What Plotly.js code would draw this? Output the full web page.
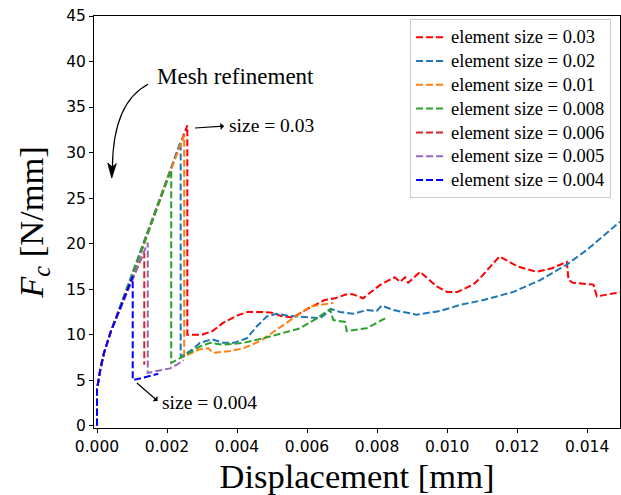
<!DOCTYPE html>
<html>
<head>
<meta charset="utf-8">
<script src="https://cdn.plot.ly/plotly-3.0.1.min.js"></script>
<style>html,body{margin:0;padding:0;background:#fff;}#chart{width:621px;height:495px;}</style>
</head>
<body>
<div id="chart"></div>
<script>
// ---- data ----
const seriesNames = ["element size = 0.03","element size = 0.02","element size = 0.01","element size = 0.008","element size = 0.006","element size = 0.005","element size = 0.004"];
const seriesColors = ["#ff0000","#1f77b4","#ff7f0e","#2ca02c","#d62728","#9467bd","#0000ff"];

const x003 = [0,0,0.0001,0.0002,0.0004,0.0006,0.0008,0.001,0.0012,0.0014,0.0016,0.0018,0.002,0.0022,0.0024,0.00258,0.00258,0.0030,0.0033,0.0036,0.0040,0.0043,0.0047,0.0050,0.0053,0.0056,0.0060,0.0065,0.0068,0.0071,0.0073,0.0076,0.0081,0.0085,0.00866,0.0088,0.00889,0.00923,0.0097,0.0100,0.0103,0.01075,0.01094,0.0115,0.0120,0.01256,0.0130,0.01342,0.01347,0.0136,0.01418,0.01428,0.0150];
const y003 = [0,4.0,6.3,8.0,10.4,12.4,14.3,16.3,18.5,20.6,22.8,24.9,27.0,29.1,31.2,33.0,10.0,10.0,10.4,11.3,12.1,12.5,12.5,12.4,12.0,11.9,12.8,13.8,14.0,14.4,14.45,14.0,15.5,16.3,15.8,16.3,15.7,16.9,15.3,14.7,14.7,15.5,16.2,18.6,17.5,16.9,17.3,18.0,16.0,15.7,15.5,14.2,14.7];

const x002 = [0,0,0.0001,0.0002,0.0004,0.0006,0.0008,0.001,0.0012,0.0014,0.0016,0.0018,0.002,0.0022,0.00239,0.00239,0.0027,0.00294,0.00328,0.00361,0.0039,0.00428,0.00456,0.00485,0.00513,0.00542,0.0058,0.00637,0.0067,0.00694,0.00732,0.0077,0.00799,0.00813,0.00847,0.00913,0.0098,0.0104,0.01104,0.0119,0.01266,0.01342,0.01399,0.01494];
const y002 = [0,4.0,6.3,8.0,10.4,12.5,14.5,16.5,18.7,20.9,23.0,25.0,27.0,29.1,31.2,7.6,8.3,9.1,9.5,9.1,9.1,9.6,10.9,12.0,12.3,12.1,12.0,11.8,12.8,12.5,12.3,12.7,12.6,13.2,12.7,12.2,12.6,13.3,13.8,14.7,16.0,17.7,19.3,22.4];

const x001 = [0,0,0.0001,0.0002,0.0004,0.0006,0.0008,0.001,0.0012,0.0014,0.0016,0.0018,0.002,0.0022,0.00249,0.00249,0.00294,0.00318,0.00332,0.0038,0.00418,0.00466,0.0050,0.0054,0.00609,0.00675];
const y001 = [0,4.0,6.3,8.0,10.4,12.4,14.3,16.3,18.5,20.6,22.8,24.9,27.0,29.0,31.9,7.6,8.4,8.5,8.0,8.2,8.5,9.3,10.2,11.3,13.1,13.5];

const x0008 = [0,0,0.0001,0.0002,0.0004,0.0006,0.0008,0.001,0.0012,0.0014,0.0016,0.0018,0.002,0.00212,0.00212,0.00256,0.00294,0.00323,0.00361,0.00418,0.00475,0.00513,0.0058,0.00628,0.00666,0.00675,0.00709,0.00713,0.0077,0.00823];
const y0008 = [0,4.0,6.3,8.0,10.4,12.4,14.3,16.3,18.5,20.6,22.7,24.8,26.8,28.1,6.9,7.8,8.7,9.1,8.9,9.1,9.6,10.0,10.7,11.8,12.8,11.6,11.4,10.4,10.7,11.8];

const x0006 = [0,0,0.0001,0.0002,0.0004,0.0006,0.0008,0.001,0.0012,0.00135,0.00135];
const y0006 = [0,4.0,6.3,8.0,10.4,12.3,14.2,16.1,17.8,19.0,6.7];

const x0005 = [0,0,0.0001,0.0002,0.0004,0.0006,0.0008,0.001,0.0012,0.00145,0.00145,0.0017,0.00209,0.00228,0.00247];
const y0005 = [0,4.0,6.3,8.0,10.4,12.3,14.2,16.1,17.8,20.1,5.8,6.0,6.3,6.7,7.2];

const x0004 = [0,0,0.0001,0.0002,0.0004,0.0006,0.0008,0.00102,0.00102,0.00113,0.00175];
const y0004 = [0,4.0,6.3,8.0,10.4,12.3,14.2,16.4,5.05,5.1,5.7];

const xTicks = [0,0.002,0.004,0.006,0.008,0.010,0.012,0.014];
const xTickLabels = ["0.000","0.002","0.004","0.006","0.008","0.010","0.012","0.014"];
const yTicks = [0,5,10,15,20,25,30,35,40,45];

const seriesX = [x003,x002,x001,x0008,x0006,x0005,x0004];
const seriesY = [y003,y002,y001,y0008,y0006,y0005,y0004];

const SERIF = "Liberation Serif, Times New Roman, serif";
const SANS = "DejaVu Sans, sans-serif";

const traces = seriesNames.map((n,i)=>({
  type:"scatter", mode:"lines", name:"<span style='font-size:18.5px'>"+n+"</span>", x:seriesX[i], y:seriesY[i],
  line:{color:seriesColors[i], width:2, dash:"7px,3px"}
}));

const layout = {
  width:621, height:495,
  margin:{l:94, r:1, t:16, b:67, pad:0},
  paper_bgcolor:"#fff", plot_bgcolor:"#fff",
  showlegend:true,
  legend:{x:0.983, xanchor:"right", y:0.992, yanchor:"top",
    bgcolor:"rgba(255,255,255,0.9)", bordercolor:"#cccccc", borderwidth:1,
    font:{family:SERIF, size:16, color:"#000"}, tracegroupgap:0},
  xaxis:{range:[-0.000086,0.01494], tickvals:xTicks, ticktext:xTickLabels,
    showgrid:false, zeroline:false, showline:true, mirror:true, linecolor:"#000", linewidth:1,
    ticks:"outside", ticklen:4, tickcolor:"#000",
    tickfont:{family:SANS, size:15.5, color:"#000"},
    title:{text:"Displacement [mm]", font:{family:SERIF, size:34.5, color:"#000"}, standoff:10}},
  yaxis:{range:[-0.25,45], tickvals:yTicks,
    showgrid:false, zeroline:false, showline:true, mirror:true, linecolor:"#000", linewidth:1,
    ticks:"outside", ticklen:4, tickcolor:"#000",
    tickfont:{family:SANS, size:15.5, color:"#000"},
    title:{text:"<i>F</i><sub><i>c</i></sub> [N/mm]", font:{family:SERIF, size:34.5, color:"#000"}, standoff:12}},
  shapes:[
    {type:"path", xref:"x", yref:"y", path:"M 0.00146 37.5 Q 0.00046 35.5 0.00044 28.4", line:{color:"#000", width:1.2}},
    {type:"path", xref:"x", yref:"y", path:"M 0.000421 27.2 L 0.000306 28.85 L 0.000438 28.41 L 0.000552 28.8 Z", fillcolor:"#000", line:{color:"#000", width:0.8}}
  ],
  annotations:[
    {x:0.00166, y:38.4, xref:"x", yref:"y", text:"Mesh refinement", showarrow:false, xanchor:"left", yanchor:"middle", font:{family:SERIF, size:23, color:"#000"}},
    {x:0.0028, y:32.7, xref:"x", yref:"y", text:"size = 0.03", showarrow:true, arrowside:"start", startstandoff:3, ax:32, ay:-2, xanchor:"left", yanchor:"middle", arrowhead:2, arrowsize:1.3, arrowwidth:1.2, arrowcolor:"#000", font:{family:SERIF, size:19.5, color:"#000"}},
    {x:0.00114, y:4.7, xref:"x", yref:"y", text:"size = 0.004", showarrow:true, arrowside:"start", startstandoff:3, ax:23, ay:20, xanchor:"left", yanchor:"middle", arrowhead:2, arrowsize:1.3, arrowwidth:1.2, arrowcolor:"#000", font:{family:SERIF, size:19.5, color:"#000"}}
  ]
};

Plotly.newPlot("chart", traces, layout, {staticPlot:true, displayModeBar:false});
</script>
</body>
</html>
